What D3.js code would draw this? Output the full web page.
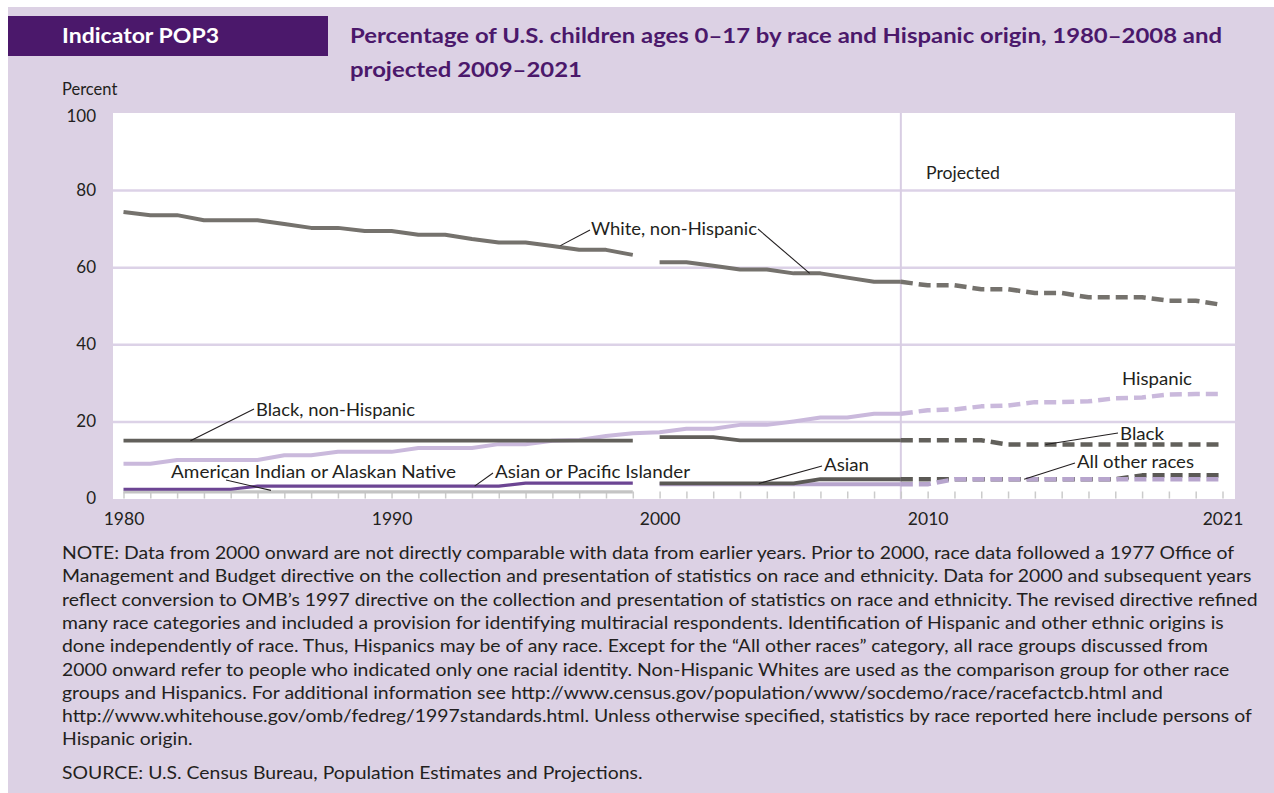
<!DOCTYPE html>
<html><head><meta charset="utf-8">
<script src="https://cdn.jsdelivr.net/npm/d3@7/dist/d3.min.js"></script>
<style>
html,body{margin:0;padding:0;background:#fff;}
svg{display:block;}
text{font-family:Lato,"Open Sans",sans-serif;}
</style></head><body>
<svg id="c" width="1274" height="793"></svg>
<script>
// ---------- data ----------
const yearsPre  = [1980,1981,1982,1983,1984,1985,1986,1987,1988,1989,1990,1991,1992,1993,1994,1995,1996,1997,1998,1999];
const yearsPost = [2000,2001,2002,2003,2004,2005,2006,2007,2008,2009];
const yearsProj = [2009,2010,2011,2012,2013,2014,2015,2016,2017,2018,2019,2020,2021];
const yearsHisp = [1980,1981,1982,1983,1984,1985,1986,1987,1988,1989,1990,1991,1992,1993,1994,1995,1996,1997,1998,1999,2000,2001,2002,2003,2004,2005,2006,2007,2008,2009];

const whitePre  = [74.3,73.5,73.5,72.2,72.2,72.2,71.2,70.2,70.2,69.4,69.4,68.4,68.4,67.3,66.4,66.4,65.5,64.5,64.5,63.2];
const whitePost = [61.3,61.3,60.4,59.4,59.4,58.4,58.4,57.3,56.2,56.2];
const whiteProj = [56.2,55.3,55.3,54.3,54.3,53.3,53.3,52.2,52.2,52.2,51.3,51.3,50.2];

const blackPre  = [15.0,15.0,15.0,15.0,15.0,15.0,15.0,15.0,15.0,15.0,15.0,15.0,15.0,15.0,15.0,15.0,15.0,15.0,15.0,15.0];
const blackPost = [15.9,15.9,15.9,15.1,15.1,15.1,15.1,15.1,15.1,15.1];
const blackProj = [15.1,15.1,15.1,15.1,14.0,14.0,14.0,14.0,14.0,14.0,14.0,14.0,14.0];

const hispanic     = [9.0,9.0,10.0,10.0,10.0,10.0,11.2,11.2,12.1,12.1,12.1,13.1,13.1,13.1,14.1,14.1,15.0,15.2,16.2,16.9,17.2,18.1,18.1,19.1,19.1,20.0,21.0,21.0,22.0,22.0];
const hispanicProj = [22.0,22.9,23.1,23.9,24.1,25.0,25.0,25.2,26.0,26.2,27.0,27.1,27.1];

const apiPre  = [2.4,2.4,2.4,2.4,2.4,3.2,3.2,3.2,3.2,3.2,3.2,3.2,3.2,3.2,3.2,4.0,4.0,4.0,4.0,4.0];
const aianPre = [1.7,1.7,1.7,1.7,1.7,1.7,1.7,1.7,1.7,1.7,1.7,1.7,1.7,1.7,1.7,1.7,1.7,1.7,1.7,1.7];

const asianPost = [3.9,3.9,3.9,3.9,3.9,3.9,5.0,5.0,5.0,5.0];
const asianProj = [5.0,5.0,5.0,5.0,5.0,5.0,5.0,5.0,5.0,6.0,6.0,6.0,6.0];

const otherPost = [3.7,3.7,3.7,3.7,3.7,3.7,3.7,3.7,3.7,3.7];
const otherProj = [3.7,3.7,5.0,5.0,5.0,5.0,5.0,5.0,5.0,5.0,5.0,5.0,5.0];

const yTicks = [0,20,40,60,80,100];
const xTickLabels = [1980,1990,2000,2010,2021];
const projectionStart = 2009;

const titleLines = ["Percentage of U.S. children ages 0\u201317 by race and Hispanic origin, 1980\u20132008 and","projected 2009\u20132021"];
const noteLines = [
"NOTE: Data from 2000 onward are not directly comparable with data from earlier years. Prior to 2000, race data followed a 1977 Office of",
"Management and Budget directive on the collection and presentation of statistics on race and ethnicity. Data for 2000 and subsequent years",
"reflect conversion to OMB\u2019s 1997 directive on the collection and presentation of statistics on race and ethnicity. The revised directive refined",
"many race categories and included a provision for identifying multiracial respondents. Identification of Hispanic and other ethnic origins is",
"done independently of race. Thus, Hispanics may be of any race. Except for the \u201CAll other races\u201D category, all race groups discussed from",
"2000 onward refer to people who indicated only one racial identity. Non-Hispanic Whites are used as the comparison group for other race",
"groups and Hispanics. For additional information see http://www.census.gov/population/www/socdemo/race/racefactcb.html and",
"http://www.whitehouse.gov/omb/fedreg/1997standards.html. Unless otherwise specified, statistics by race reported here include persons of",
"Hispanic origin."
];
const sourceLine = "SOURCE: U.S. Census Bureau, Population Estimates and Projections.";

// ---------- layout ----------
const svg = d3.select("#c");
const LAV = "#dcd1e4", PURPLE = "#4b186b";
const plot = {l:113, r:1235, t:113, b:499};

svg.append("rect").attr("x",0).attr("y",0).attr("width",1274).attr("height",793).attr("fill","#fff");
svg.append("rect").attr("x",8).attr("y",7).attr("width",1266).attr("height",786).attr("fill",LAV);

function fit(sel, w){
  const n = sel.node().getComputedTextLength();
  sel.attr("textLength", w).attr("lengthAdjust","spacingAndGlyphs");
  return w / n;
}
function scaleBy(sel, r){
  const n = sel.node().getComputedTextLength();
  sel.attr("textLength", n*r).attr("lengthAdjust","spacingAndGlyphs");
}

// header
svg.append("rect").attr("x",8).attr("y",16).attr("width",320).attr("height",40).attr("fill",PURPLE);
const ind = svg.append("text").attr("x",62).attr("y",43).attr("fill","#fff")
  .attr("font-size",20).attr("font-weight",700).text("Indicator POP3");
fit(ind, 157);

const t1 = svg.append("text").attr("x",350).attr("y",43).attr("fill",PURPLE)
  .attr("font-size",21).attr("font-weight",700).text(titleLines[0]);
const tr = fit(t1, 872);
const t2 = svg.append("text").attr("x",350).attr("y",77).attr("fill",PURPLE)
  .attr("font-size",21).attr("font-weight",700).text(titleLines[1]);
scaleBy(t2, tr);

// plot background
svg.append("rect").attr("x",plot.l).attr("y",plot.t).attr("width",plot.r-plot.l).attr("height",plot.b-plot.t).attr("fill","#fff");

const x = d3.scaleLinear().domain([1980,2021]).range([123.5,1222.5]);
const y = d3.scaleLinear().domain([0,100]).range([498.5,113]);

// gridlines
const grid = svg.append("g").attr("transform",`translate(${plot.l},0)`)
  .call(d3.axisLeft(y).tickValues([20,40,60,80]).tickSize(-(plot.r-plot.l)).tickFormat(""));
grid.select(".domain").remove();
grid.selectAll("line").attr("stroke","#dcd2e7").attr("stroke-width",2.5);

// projection line
svg.append("line").attr("x1",x(projectionStart)).attr("x2",x(projectionStart))
  .attr("y1",plot.t).attr("y2",plot.b).attr("stroke","#d8cde3").attr("stroke-width",2);

// year ticks
const tickYears = d3.range(1980,2022);
const tk = svg.append("g").attr("transform",`translate(0,${plot.b - 0.5})`)
  .call(d3.axisBottom(x).tickValues(tickYears).tickSize(-7).tickFormat(""));
tk.select(".domain").remove();
tk.selectAll("line").attr("stroke","#cbcbcb").attr("stroke-width",1.5);

// axis labels
const xa = svg.append("g").attr("transform",`translate(0,${plot.b})`)
  .call(d3.axisBottom(x).tickValues(xTickLabels).tickSize(0).tickPadding(14).tickFormat(d3.format("d")));
xa.select(".domain").remove();
xa.selectAll("text").attr("font-size",17.5).attr("fill","#231f20").attr("font-family","Lato,'Open Sans',sans-serif");

const ya = svg.append("g").attr("transform",`translate(96,0)`)
  .call(d3.axisLeft(y).tickValues(yTicks).tickSize(0).tickPadding(0));
ya.select(".domain").remove();
ya.selectAll("text").attr("font-size",17).attr("fill","#231f20").attr("font-family","Lato,'Open Sans',sans-serif")
  .attr("dy", d => d===100 ? "0.5em" : "0.32em");
svg.append("text").attr("x",62).attr("y",95).attr("font-size",16.5).attr("fill","#231f20").text("Percent");

// lines
const line = d3.line().x(d=>x(d[0])).y(d=>y(d[1]));
function draw(years, vals, color, w, dashed){
  svg.append("path").datum(years.map((yr,i)=>[yr,vals[i]]))
    .attr("d",line).attr("fill","none").attr("stroke",color).attr("stroke-width",w)
    .attr("stroke-linejoin","round")
    .attr("stroke-dasharray", dashed ? "12,6" : null);
}
const cWhite="#75726d", cBlack="#62605b", cAsian="#5b5955", cHisp="#cab9dc", cOther="#b7a5cd", cAPI="#6c4593", cAIAN="#c4c4c4";

draw(yearsPre, aianPre, cAIAN, 3.2, false);
draw(yearsPre, apiPre, cAPI, 3.2, false);
draw(yearsHisp, hispanic, cHisp, 4, false);
draw(yearsProj, hispanicProj, cHisp, 4.5, true);
draw(yearsPost, otherPost, cOther, 4, false);
draw(yearsPost, asianPost, cAsian, 3.8, false);
draw(yearsProj, asianProj, cAsian, 4.5, true);
draw(yearsProj, otherProj, cOther, 4.5, true);
draw(yearsPre, blackPre, cBlack, 3.8, false);
draw(yearsPost, blackPost, cBlack, 3.8, false);
draw(yearsProj, blackProj, cBlack, 4.5, true);
draw(yearsPre, whitePre, cWhite, 4, false);
draw(yearsPost, whitePost, cWhite, 4, false);
draw(yearsProj, whiteProj, cWhite, 4.5, true);

// labels
function label(txt, lx, ly, w){
  const t = svg.append("text").attr("x",lx).attr("y",ly).attr("font-size",17.5).attr("fill","#231f20").text(txt);
  if (w) fit(t, w);
}
function leader(x1,y1,x2,y2){
  svg.append("line").attr("x1",x1).attr("y1",y1).attr("x2",x2).attr("y2",y2).attr("stroke","#231f20").attr("stroke-width",1.1);
}
label("White, non-Hispanic", 591, 235, 166);
leader(x(1996.3), y(65.6), 590, 230);
leader(758, 229, x(2005.6), y(58.4));
label("Black, non-Hispanic", 256, 416, 159);
leader(x(1982.5), y(15.0), 254, 409);
label("American Indian or Alaskan Native", 171, 478, 285);
leader(226, 480, x(1985.5), y(2.1));
label("Asian or Pacific Islander", 495, 478, 195);
leader(x(1993.1), y(3.2), 493, 473);
label("Asian", 824, 471, 45);
leader(x(2003.7), y(3.9), 822, 466);
label("Black", 1120, 440, 44);
leader(x(2014.4), y(14.0), 1118, 433);
label("All other races", 1077, 468, 117);
leader(x(2013.6), y(5.0), 1075, 463);
label("Hispanic", 1122, 385, 70);
label("Projected", 926, 179, 74);

// notes
const ng = svg.append("g");
let nr = 1;
noteLines.forEach((s,i)=>{
  const t = ng.append("text").attr("x",62).attr("y",559 + i*23.3).attr("font-size",16.5).attr("fill","#231f20").text(s);
  if (i===0) nr = fit(t, 1172); else scaleBy(t, nr);
});
const st = ng.append("text").attr("x",62).attr("y",779).attr("font-size",16.5).attr("fill","#231f20").text(sourceLine);
scaleBy(st, nr);
</script>
</body></html>
